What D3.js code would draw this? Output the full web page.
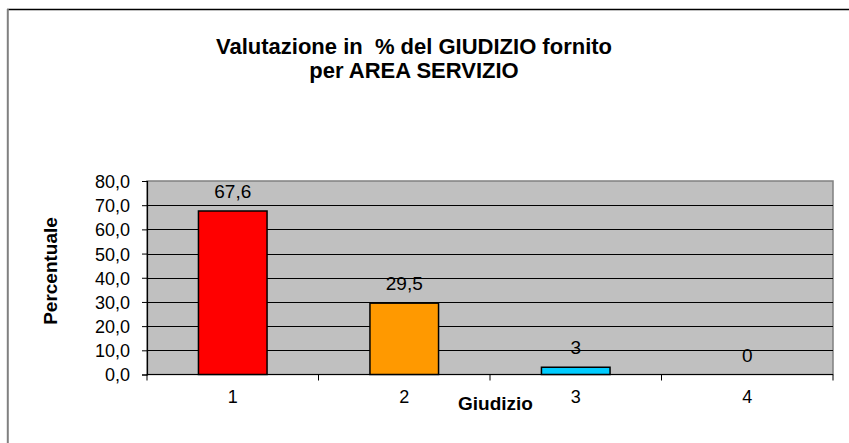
<!DOCTYPE html>
<html>
<head>
<meta charset="utf-8">
<script src="https://cdn.jsdelivr.net/npm/d3@7"></script>
<style>
  html, body { margin: 0; padding: 0; background: #ffffff; }
  svg { display: block; font-family: "Liberation Sans", Arial, sans-serif; }
</style>
</head>
<body>
<svg id="chart" width="849" height="443"></svg>
<script>
const categories = ["1", "2", "3", "4"];
const values = [67.6, 29.5, 3, 0];
const valueLabels = ["67,6", "29,5", "3", "0"];
const barColors = ["#FF0000", "#FF9900", "#00CCFF", "#9999FF"];
const yTicks = [0, 10, 20, 30, 40, 50, 60, 70, 80];
const titleLines = ["Valutazione in  % del GIUDIZIO fornito", "per AREA SERVIZIO"];
const yTitle = "Percentuale";
const xTitle = "Giudizio";

const svg = d3.select("#chart");
const plot = { left: 147, right: 833, top: 181, bottom: 374.5 };

// outer chart frame (top and left visible)
svg.append("line").attr("x1", 7).attr("x2", 849).attr("y1", 9.5).attr("y2", 9.5)
  .attr("stroke", "#000").attr("stroke-width", 1.3);
svg.append("line").attr("x1", 7.8).attr("x2", 7.8).attr("y1", 9).attr("y2", 443)
  .attr("stroke", "#808080").attr("stroke-width", 2);

// title
const title = svg.append("text").attr("text-anchor", "middle")
  .attr("font-weight", "bold").attr("font-size", 22).attr("fill", "#000")
  .style("white-space", "pre").attr("xml:space", "preserve");
titleLines.forEach((t, i) => {
  title.append("tspan").attr("x", 414).attr("y", 54 + i * 23.5).text(t);
});

const x = d3.scaleBand().domain(categories).range([plot.left, plot.right])
  .paddingInner(0.6).paddingOuter(0.3);
const xCell = d3.scaleBand().domain(categories).range([plot.left, plot.right]).padding(0);
const y = d3.scaleLinear().domain([0, 80]).range([plot.bottom, plot.top]);

// plot background
svg.append("rect").attr("x", plot.left).attr("y", plot.top)
  .attr("width", plot.right - plot.left).attr("height", plot.bottom - plot.top)
  .attr("fill", "#C0C0C0").attr("stroke", "#808080").attr("stroke-width", 1.5);

// gridlines
svg.append("g").selectAll("line").data(yTicks.filter(d => d > 0 && d < 80)).join("line")
  .attr("x1", plot.left).attr("x2", plot.right)
  .attr("y1", d => Math.round(y(d)) + 0.5).attr("y2", d => Math.round(y(d)) + 0.5)
  .attr("stroke", "#000").attr("stroke-width", 1);

// bars
svg.append("g").selectAll("rect").data(values).join("rect")
  .attr("x", (d, i) => x(categories[i]))
  .attr("y", d => y(d))
  .attr("width", x.bandwidth())
  .attr("height", d => y(0) - y(d))
  .attr("fill", (d, i) => barColors[i])
  .attr("stroke", "#000").attr("stroke-width", 1.5);

// value labels
svg.append("g").selectAll("text").data(values).join("text")
  .attr("x", (d, i) => x(categories[i]) + x.bandwidth() / 2)
  .attr("y", d => y(d) - 13)
  .attr("text-anchor", "middle").attr("font-size", 19).attr("fill", "#000")
  .text((d, i) => valueLabels[i]);

// y axis
const yAxis = d3.axisLeft(y).tickValues(yTicks).tickSize(5).tickPadding(12)
  .tickFormat(d => d3.format(".1f")(d).replace(".", ","));
const gy = svg.append("g").attr("transform", `translate(${plot.left},0)`).call(yAxis);
gy.select(".domain").attr("stroke", "#000").attr("stroke-width", 1.2);
gy.selectAll(".tick line").attr("stroke", "#000");
gy.selectAll(".tick text").attr("font-size", 18).attr("fill", "#000")
  .attr("font-family", "Liberation Sans, Arial, sans-serif").attr("dy", "0.36em");

// x axis line and boundary ticks
svg.append("line").attr("x1", plot.left).attr("x2", plot.right)
  .attr("y1", plot.bottom).attr("y2", plot.bottom).attr("stroke", "#000").attr("stroke-width", 1.2);
const bounds = categories.map(c => xCell(c)).concat([plot.right]);
svg.append("g").selectAll("line").data(bounds).join("line")
  .attr("x1", d => d).attr("x2", d => d)
  .attr("y1", plot.bottom).attr("y2", plot.bottom + 6)
  .attr("stroke", "#000").attr("stroke-width", 1);
svg.append("g").selectAll("text").data(categories).join("text")
  .attr("x", d => x(d) + x.bandwidth() / 2).attr("y", 403)
  .attr("text-anchor", "middle").attr("font-size", 18).attr("fill", "#000")
  .text(d => d);

// axis titles
svg.append("text").attr("transform", "translate(57,271) rotate(-90)")
  .attr("text-anchor", "middle").attr("font-weight", "bold").attr("font-size", 19)
  .attr("fill", "#000").text(yTitle);
svg.append("text").attr("x", 495.5).attr("y", 410)
  .attr("text-anchor", "middle").attr("font-weight", "bold").attr("font-size", 19)
  .attr("fill", "#000").text(xTitle);
</script>
</body>
</html>
